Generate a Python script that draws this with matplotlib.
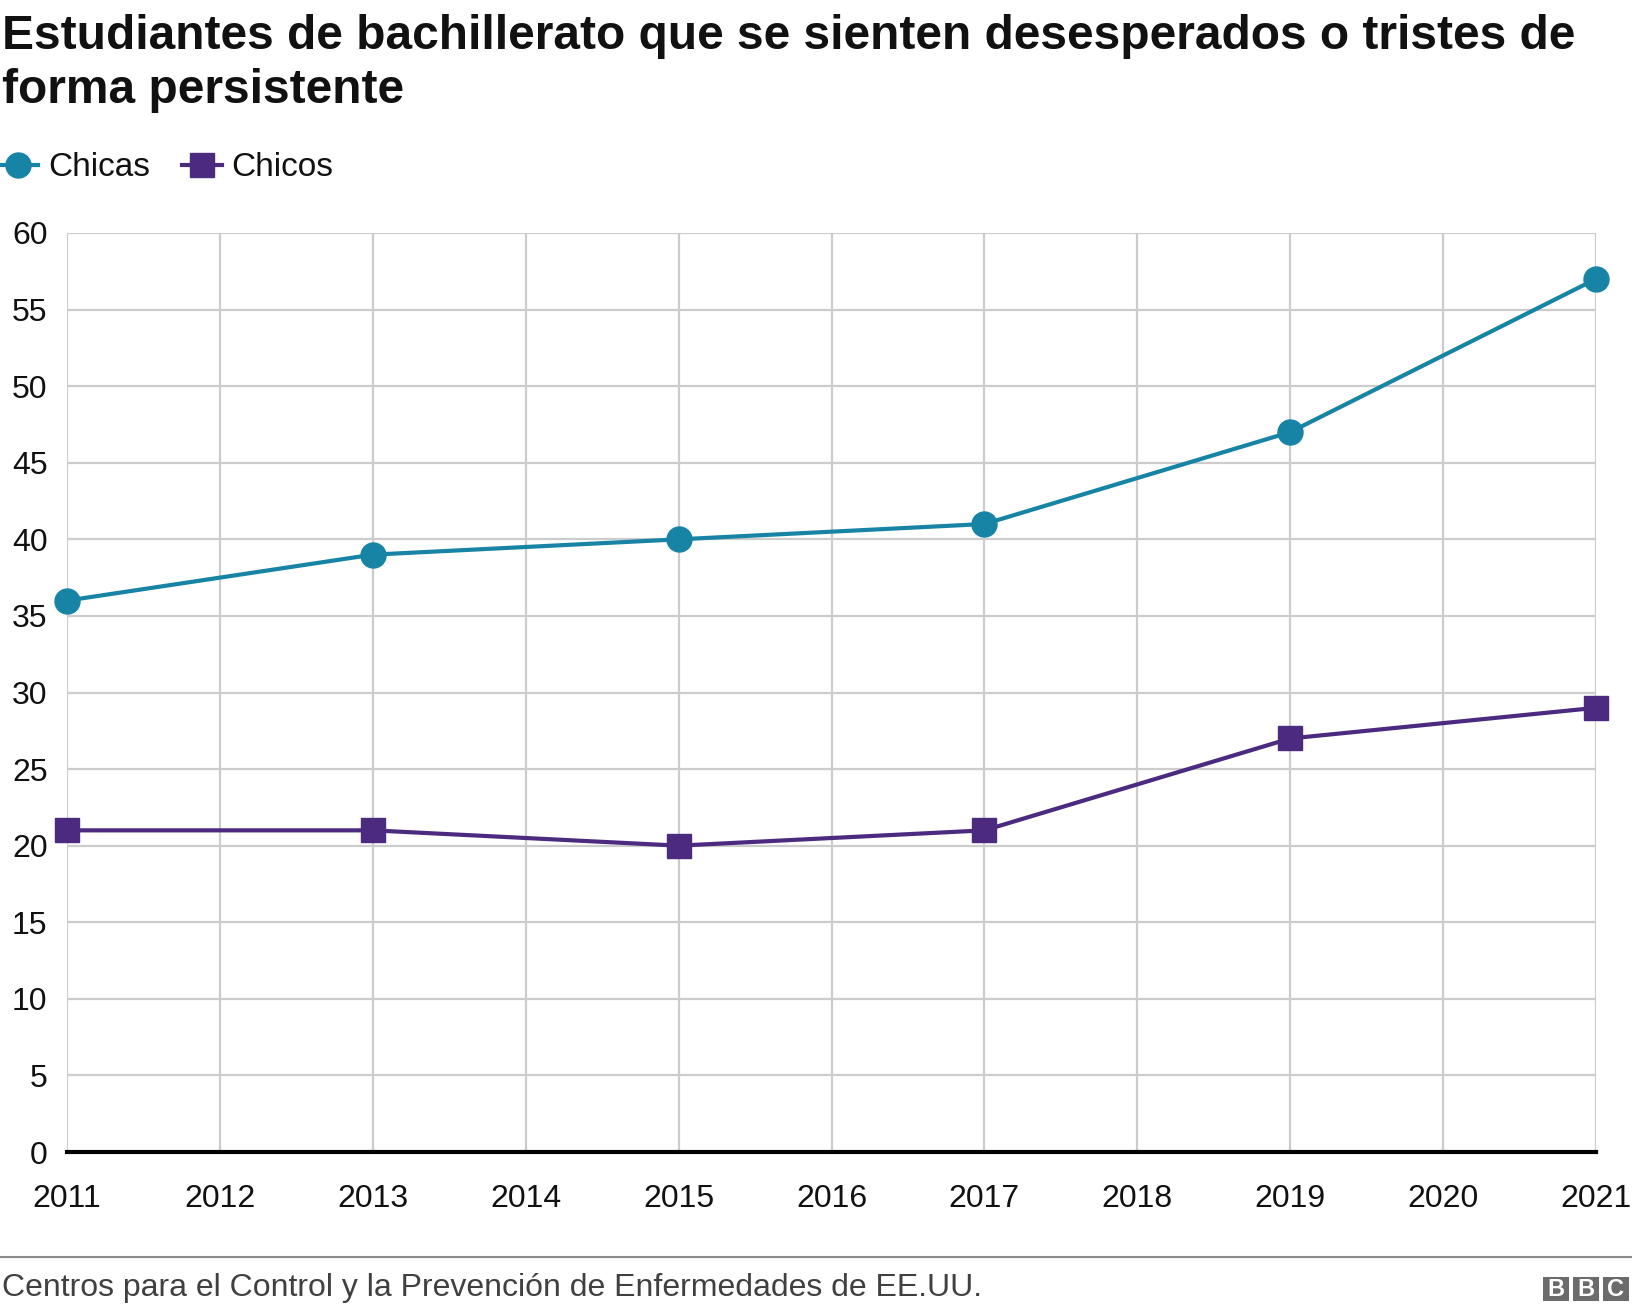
import matplotlib
matplotlib.use('Agg')
import matplotlib.pyplot as plt
from matplotlib.patches import Rectangle
from matplotlib.lines import Line2D

plt.rcParams['font.family'] = ['Liberation Sans', 'DejaVu Sans']

# Data
years = [2011, 2013, 2015, 2017, 2019, 2021]
chicas = [36, 39, 40, 41, 47, 57]
chicos = [21, 21, 20, 21, 27, 29]
x_ticks = list(range(2011, 2022))
y_ticks = list(range(0, 61, 5))

title = 'Estudiantes de bachillerato que se sienten desesperados o tristes de\nforma persistente'
source = 'Centros para el Control y la Prevención de Enfermedades de EE.UU.'

teal = '#1784A6'
purple = '#4B2A80'
grid = '#cccccc'

W, H = 1632, 1312
fig = plt.figure(figsize=(W / 100, H / 100), dpi=100)
ax = fig.add_axes([67 / W, 1 - 1152 / H, (1596 - 67) / W, (1152 - 233) / H])

ax.plot(years, chicas, color=teal, lw=3, marker='o', ms=18, clip_on=False, zorder=5, label='Chicas')
ax.plot(years, chicos, color=purple, lw=3, marker='s', ms=17, clip_on=False, zorder=5, label='Chicos')

ax.set_xlim(2011, 2021)
ax.set_ylim(0, 60)
ax.set_xticks(x_ticks)
ax.set_yticks(y_ticks)
ax.grid(True, color=grid, lw=1.6)
ax.set_axisbelow(True)
for s in ['top', 'right', 'left']:
    ax.spines[s].set_visible(False)
ax.spines['bottom'].set_color('black')
ax.spines['bottom'].set_linewidth(3)
ax.spines['bottom'].set_zorder(4)
ax.tick_params(axis='both', length=0, labelsize=23, colors='#111111')
ax.tick_params(axis='x', pad=23)
ax.tick_params(axis='y', pad=14)

# Title
fig.text(0.001, 1 - 14 / H, title, fontsize=34.5, fontweight='bold', va='top', ha='left',
         linespacing=1.26, color='#111111')

# Legend
leg = ax.legend(loc='center left', bbox_to_anchor=(-2 / W, 1 - 168 / H), bbox_transform=fig.transFigure,
                ncol=2, frameon=False, fontsize=24, handlelength=1.2, handletextpad=0.3,
                columnspacing=0.95, borderpad=0, borderaxespad=0)
for t in leg.get_texts():
    t.set_color('#111111')

# Footer
fig.add_artist(Line2D([0, 1], [1 - 1257 / H, 1 - 1257 / H], transform=fig.transFigure,
                      color='#8a8a8a', lw=1.5))
fig.text(0.001, 1 - 1288 / H, source, fontsize=23, color='#404040', va='center', ha='left')

# BBC blocks
bw, bh, gap = 26, 24, 4
x0 = 1543
for i, letter in enumerate('BBC'):
    xl = x0 + i * (bw + gap)
    fig.add_artist(Rectangle((xl / W, 1 - 1301 / H), bw / W, bh / H, transform=fig.transFigure,
                             facecolor='#6b6b6b', edgecolor='none'))
    fig.text((xl + bw / 2) / W, 1 - 1289 / H, letter, fontsize=17, fontweight='bold', color='white',
             ha='center', va='center')

fig.savefig('out.png', dpi=100)
